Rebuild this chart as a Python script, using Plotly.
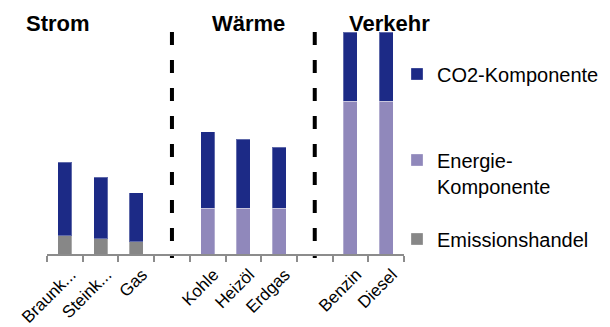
import plotly.graph_objects as go

categories = ["Braunk...", "Steink...", "Gas", " ", "Kohle", "Heizöl", "Erdgas", "  ", "Benzin", "Diesel"]
emissionshandel = [8.2, 6.8, 5.5, None, None, None, None, None, None, None]
energie = [None, None, None, None, 20.7, 20.7, 20.7, None, 68.9, 68.9]
co2 = [33.1, 27.8, 22.1, None, 34.4, 30.9, 27.5, None, 31.1, 31.1]
sections = ["Strom", "Wärme", "Verkehr"]
separators = [" ", "  "]

FONT = "Liberation Sans"
C_CO2 = "#1c2a86"
C_EN = "#9088bb"
C_EM = "#878787"

# the page body has an 8px margin, so work in page pixels and subtract it
OFF = 8
W, H = 610 - OFF, 327 - OFF
PL, PR, PT, PB = 47, 404, 32, 254          # plot area in page pixels
L, T = PL - OFF, PT - OFF
R = W - (PR - OFF)
B = H - (PB - OFF)
pw, ph = PR - PL, PB - PT

def px_x(p):
    return (p - PL) / pw

def px_y(p):
    return (PB - p) / ph

edge = dict(color="rgba(255,255,255,0.3)", width=1)
fig = go.Figure()
fig.add_trace(go.Bar(x=categories, y=emissionshandel, name="Emissionshandel",
                     marker=dict(color=C_EM, line=edge), legend="legend3", showlegend=True))
fig.add_trace(go.Bar(x=categories, y=energie, name="Energie-<br>Komponente",
                     marker=dict(color=C_EN, line=edge), legend="legend2", showlegend=True))
fig.add_trace(go.Bar(x=categories, y=co2, name="CO2-Komponente",
                     marker=dict(color=C_CO2, line=edge), legend="legend", showlegend=True))

ymax = 100.0
for s in separators:
    fig.add_shape(type="line", xref="x", yref="paper",
                  x0=categories.index(s), x1=categories.index(s),
                  y0=1.0, y1=px_y(258),
                  line=dict(color="black", width=4, dash="13px,15px"))

title_pos = [57.5, 248, 389]
for name, cx in zip(sections, title_pos):
    fig.add_annotation(text="<b>" + name + "</b>", xref="paper", yref="paper",
                       x=px_x(cx), y=px_y(24), xanchor="center", yanchor="middle",
                       showarrow=False, font=dict(family=FONT, size=22, color="black"))

leg_common = dict(xanchor="left", yanchor="middle", bgcolor="rgba(0,0,0,0)",
                  font=dict(family=FONT, size=20, color="black"), valign="top",
                  itemclick=False, visible=True)
lx = px_x(397)
fig.update_layout(
    barmode="stack",
    bargap=0.61,
    showlegend=True,
    width=W, height=H, autosize=False,
    margin=dict(l=L, r=R, t=T, b=B, pad=0, autoexpand=False),
    paper_bgcolor="white", plot_bgcolor="white",
    font=dict(family=FONT, size=20, color="black"),
    legend=dict(x=lx, y=px_y(74), **leg_common),
    legend2=dict(x=lx, y=px_y(173), **leg_common),
    legend3=dict(x=lx, y=px_y(239), **leg_common),
    xaxis=dict(type="category", categoryorder="array", categoryarray=categories,
               showline=True, linecolor="#8c8c8c", linewidth=2,
               ticks="outside", tickson="boundaries", ticklen=6, tickwidth=2,
               tickcolor="#8c8c8c", tickangle=-45, automargin=False,
               ticklabelstandoff=2, ticklabelshift=6,
               tickfont=dict(family=FONT, size=17, color="black"),
               showgrid=False, zeroline=False),
    yaxis=dict(visible=False, range=[0, ymax], showgrid=False, zeroline=False),
)

fig.write_html("out.html")
